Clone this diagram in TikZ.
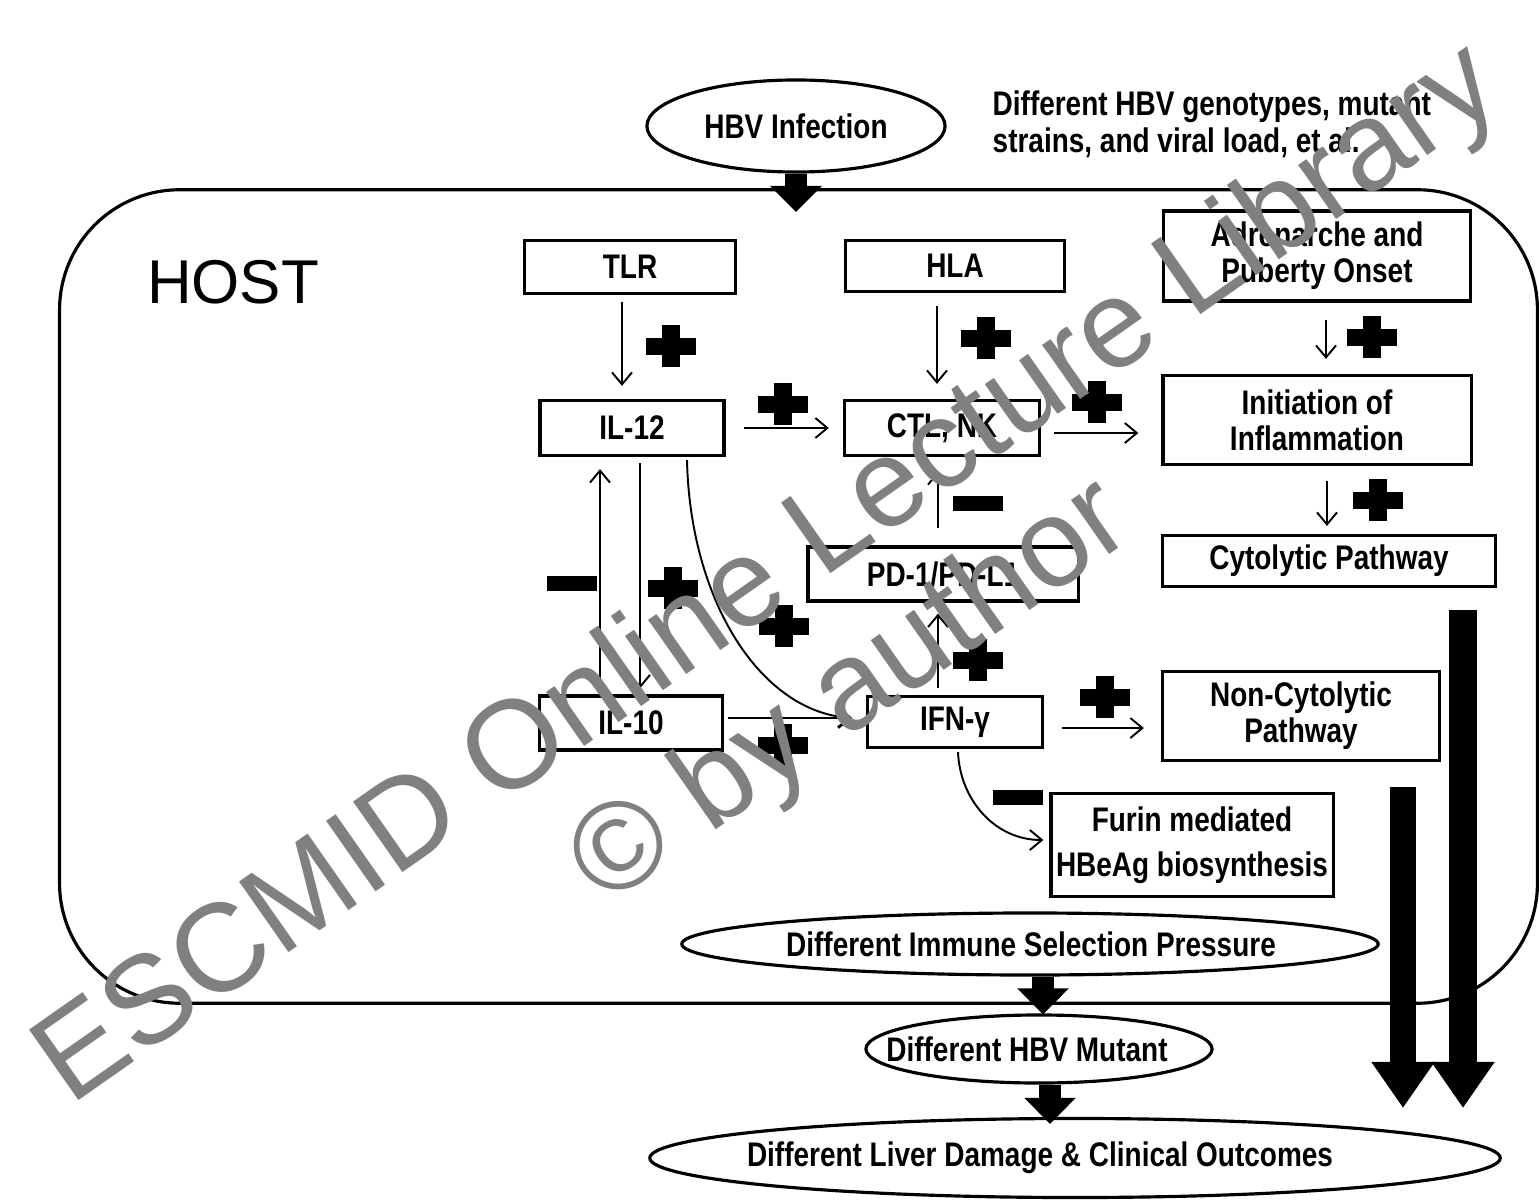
\documentclass[tikz,border=0pt]{standalone}
\usepackage{fontspec}
\setmainfont{Liberation Sans}
\newfontfamily\condfont[FakeStretch=0.82]{Liberation Sans}
\usetikzlibrary{arrows.meta,shapes.geometric,calc}
\definecolor{wmgray}{RGB}{128,128,128}
\tikzset{
  plussign/.pic={\fill (-25,-8.5) rectangle (25,8.5); \fill (-9,-21) rectangle (9,21);},
  minussign/.pic={\fill (-25,-7.5) rectangle (25,7.5);},
}
\begin{document}
\begin{tikzpicture}[x=0.01cm, y=-0.01cm,
  box/.style={draw, line width=0.9pt, inner sep=0pt, align=center, font=\condfont\bfseries\fontsize{9.7}{10.3}\selectfont},
  ellbox/.style={draw, line width=0.9pt, ellipse, inner sep=0pt},
  etext/.style={inner sep=0pt, align=center, font=\condfont\bfseries\fontsize{9.7}{10.3}\selectfont},
  thinarr/.style={line width=0.55pt, -{Straight Barb[length=1.2mm,width=2.0mm]}},
  blkarr/.style={line width=2.2mm, -{Triangle[length=2.6mm,width=5.0mm]}},
  bigarr/.style={line width=2.8mm, -{Triangle[length=4.6mm,width=6.0mm]}},
]
\fill[white] (0,0) rectangle (1539,1203);
\useasboundingbox (0,0) rectangle (1539,1203);

% HOST frame
\node[draw, line width=0.9pt, rounded corners=1.2cm, minimum width=147.7mm, minimum height=81.3mm, inner sep=0pt] (host) at (798.5,596.5) {};
\node[inner sep=0pt, font=\fontsize{17.6}{20}\selectfont] (hostlbl) at (233,282) {HOST};

% top
\node[ellbox, minimum width=29.8mm, minimum height=9.2mm] (hbv) at (796,126) {};
\node[etext] (hbvtext) at (hbv.center) {HBV Infection};
\node[anchor=west, inner sep=0pt, align=left, font=\condfont\bfseries\fontsize{9.7}{10.5}\selectfont] (note) at (992,124) {Different HBV genotypes, mutant\\strains, and viral load, et al.};
\coordinate (hbvtip) at (796,212);
\draw[blkarr] (hbv.south) -- (hbvtip);

% boxes
\node[box, minimum width=21.1mm, minimum height=5.3mm] (tlr) at (630,267) {TLR};
\node[box, minimum width=21.9mm, minimum height=5.1mm] (hla) at (955,266) {HLA};
\node[box, minimum width=30.7mm, minimum height=9.0mm] (adr) at (1317,256) {Adrenarche and\\Puberty Onset};
\node[box, minimum width=18.4mm, minimum height=5.5mm] (il12) at (632,428) {IL-12};
\node[box, minimum width=19.5mm, minimum height=5.5mm] (ctl) at (942,428) {CTL, NK};
\node[box, minimum width=30.8mm, minimum height=8.9mm] (init) at (1317,420) {Initiation of\\Inflammation};
\node[box, minimum width=33.2mm, minimum height=5.1mm] (cyto) at (1329,561) {Cytolytic Pathway};
\node[box, minimum width=27.0mm, minimum height=5.4mm] (pd1) at (943,574) {PD-1/PD-L1};
\node[box, minimum width=18.3mm, minimum height=5.4mm] (il10) at (631,723) {IL-10};
\node[box, minimum width=17.5mm, minimum height=5.1mm] (ifn) at (955,722) {IFN-γ};
\node[box, minimum width=27.7mm, minimum height=8.9mm] (noncyto) at (1301,716) {Non-Cytolytic\\Pathway};
\node[box, minimum width=28.2mm, minimum height=10.3mm, font=\condfont\bfseries\fontsize{9.7}{12.8}\selectfont] (furin) at (1192,845) {Furin mediated\\HBeAg biosynthesis};

% thin arrows
\draw[thinarr] ($(tlr.south)+(-8,7)$) -- ($(il12.north)+(-10,-13)$);
\draw[thinarr] ($(hla.south)+(-18,13)$) -- ($(ctl.north)+(-5,-15)$);
\draw[thinarr] ($(adr.south)+(9,17)$) -- ($(init.north)+(9,-15)$);
\draw[thinarr] ($(init.south)+(10,15)$) -- ($(cyto.north)+(-2,-8)$);
\draw[thinarr] ($(il12.east)+(18,0)$) -- ($(ctl.west)+(-14,0)$);
\draw[thinarr] ($(ctl.east)+(13,5)$) -- ($(init.west)+(-23,13)$);
\draw[thinarr] ($(pd1.north)+(-5,-17)$) -- ($(ctl.south)+(-4,14)$);
\draw[thinarr] ($(ifn.north)+(-17,-7)$) -- ($(pd1.south)+(-5,11)$);
\draw[thinarr] ($(il10.north)+(-31,-6)$) -- ($(il12.south)+(-32,12)$);
\draw[thinarr] ($(il12.south)+(8,6)$) -- ($(il10.north)+(9,-6)$);
\draw[thinarr] ($(il12.south)+(55,3)$) .. controls (690,600) and (760,712) .. ($(ifn.west)+(-14,-4)$);
\draw[thinarr] ($(il10.east)+(4,-5)$) -- ($(ifn.west)+(-14,-4)$);
\draw[thinarr] ($(ifn.east)+(18,6)$) -- ($(noncyto.west)+(-17,12)$);
\draw[thinarr] ($(ifn.south)+(3,3)$) .. controls (960,800) and (995,840) .. ($(furin.west)+(-6,-5)$);

% plus / minus signs
\pic at (671,346) {plussign};
\pic at (986,338) {plussign};
\pic at (1372,337) {plussign};
\pic at (1378,500) {plussign};
\pic at (783,404) {plussign};
\pic at (1097,402) {plussign};
\pic at (673,588) {plussign};
\pic at (784,626) {plussign};
\pic at (978,660) {plussign};
\pic at (783,745) {plussign};
\pic at (1105,697) {plussign};
\pic at (572,583) {minussign};
\pic at (978,503) {minussign};
\pic at (1018,797) {minussign};

% bottom ellipses
\node[ellbox, minimum width=69.6mm, minimum height=6.2mm] (isp) at (1030,944) {};
\node[etext] (isptext) at (1031,944) {Different Immune Selection Pressure};
\node[ellbox, minimum width=34.6mm, minimum height=6.8mm] (mut) at (1039,1049) {};
\node[etext] (muttext) at (1027,1049) {Different HBV Mutant};
\node[ellbox, minimum width=85.0mm, minimum height=7.9mm] (out) at (1075,1158) {};
\node[etext] (outtext) at (1040,1158) {Different Liver Damage \& Clinical Outcomes};

\draw[blkarr] ($(isp.south)+(13,0)$) -- ($(mut.north)+(4,1)$);
\draw[blkarr] ($(mut.south)+(11,0)$) -- ($(out.north)+(-25,7)$);

% big right arrows
\coordinate (longstart) at (1463,610);
\coordinate (longend) at (1463,1108);
\coordinate (shortstart) at (1403,787);
\coordinate (shortend) at (1403,1108);
\draw[bigarr] (longstart) -- (longend);
\draw[bigarr, line width=2.6mm] (shortstart) -- (shortend);

% watermark
\node[rotate=35, align=center, inner sep=0pt, text=wmgray, font=\fontsize{35.6}{41}\selectfont] (wm) at (811,636) {ESCMID Online Lecture Library\\© by author};
\end{tikzpicture}
\end{document}
